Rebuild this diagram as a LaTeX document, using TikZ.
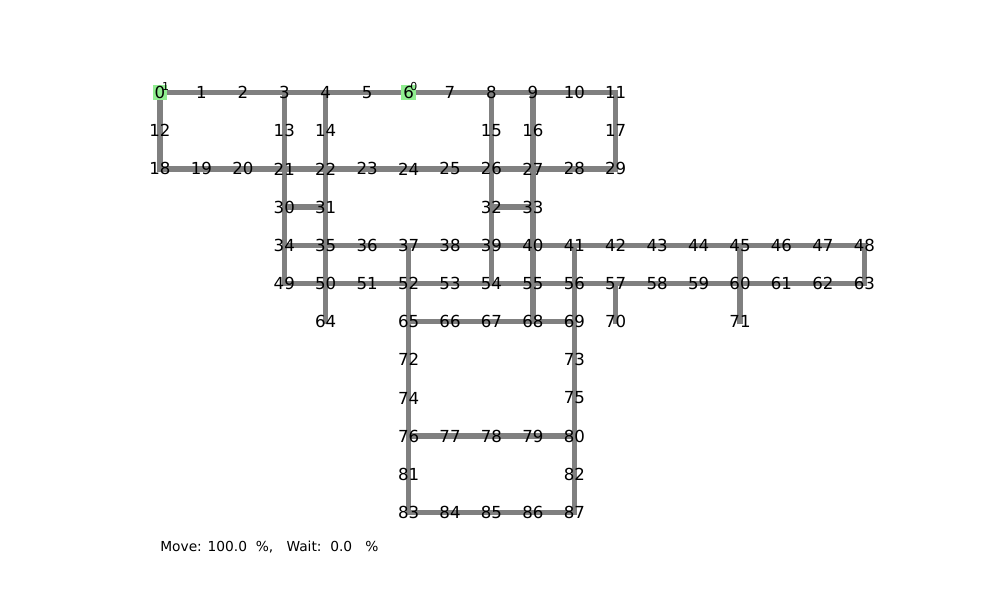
\documentclass[tikz,border=0pt]{standalone}
\usepackage{fontspec}
\setmainfont{DejaVu Sans}
\usepackage{xcolor}
\usepackage{tikz}
\usetikzlibrary{
  positioning, calc, backgrounds
}
\definecolor{trackgray}{HTML}{808080}
\definecolor{agentgreen}{HTML}{90EE90}
\tikzset{
  gridlabel/.style={
    inner sep=0pt, font=\fontsize{11.8}{14}\selectfont, text=black
  },
  gridtrack/.style={
    draw=trackgray, line width=3.9pt, line cap=rect
  },
  agentbox/.style={
    fill=agentgreen, draw=none, minimum size=0.36cm, inner sep=0pt
  },
  agenttag/.style={
    inner sep=0pt, font=\fontsize{7.8}{9}\selectfont
  },
  statlabel/.style={
    anchor=west, inner sep=0pt, font=\fontsize{9.8}{12}\selectfont
  },
}

\begin{document}
\begin{tikzpicture}[x=1.0357cm, y=-0.9545cm]
  \useasboundingbox (-3.862,-2.423) rectangle (20.275,13.292);
  % cells, row by row (number/column)
  \foreach \n/\c in {0/0,1/1,2/2,3/3,4/4,5/5,6/6,7/7,8/8,9/9,10/10,11/11}
    \node[gridlabel] (n\n) at (\c,0) {\n};
  \foreach \n/\c in {12/0,13/3,14/4,15/8,16/9,17/11}
    \node[gridlabel] (n\n) at (\c,1) {\n};
  \foreach \n/\c in {18/0,19/1,20/2,21/3,22/4,23/5,24/6,25/7,26/8,27/9,28/10,29/11}
    \node[gridlabel] (n\n) at (\c,2) {\n};
  \foreach \n/\c in {30/3,31/4,32/8,33/9}
    \node[gridlabel] (n\n) at (\c,3) {\n};
  \foreach \n/\c in {34/3,35/4,36/5,37/6,38/7,39/8,40/9,41/10,42/11,43/12,44/13,45/14,46/15,47/16,48/17}
    \node[gridlabel] (n\n) at (\c,4) {\n};
  \foreach \n/\c in {49/3,50/4,51/5,52/6,53/7,54/8,55/9,56/10,57/11,58/12,59/13,60/14,61/15,62/16,63/17}
    \node[gridlabel] (n\n) at (\c,5) {\n};
  \foreach \n/\c in {64/4,65/6,66/7,67/8,68/9,69/10,70/11,71/14}
    \node[gridlabel] (n\n) at (\c,6) {\n};
  \foreach \n/\c in {72/6,73/10}
    \node[gridlabel] (n\n) at (\c,7) {\n};
  \foreach \n/\c in {74/6,75/10}
    \node[gridlabel] (n\n) at (\c,8) {\n};
  \foreach \n/\c in {76/6,77/7,78/8,79/9,80/10}
    \node[gridlabel] (n\n) at (\c,9) {\n};
  \foreach \n/\c in {81/6,82/10}
    \node[gridlabel] (n\n) at (\c,10) {\n};
  \foreach \n/\c in {83/6,84/7,85/8,86/9,87/10}
    \node[gridlabel] (n\n) at (\c,11) {\n};

  \begin{scope}[on background layer]
    % horizontal runs
    \foreach \s/\e in {0/11,18/29,30/31,32/33,34/48,49/63,65/69,76/80,83/87}{
      \pgfmathtruncatemacro{\last}{\e-1}
      \foreach \i in {\s,...,\last}{
        \pgfmathtruncatemacro{\nxt}{\i+1}
        \draw[gridtrack] (n\i.center) -- (n\nxt.center);
      }
    }
    % vertical runs
    \draw[gridtrack] (n0.center) -- (n12.center) -- (n18.center);
    \draw[gridtrack] (n3.center) -- (n13.center) -- (n21.center) -- (n30.center) -- (n34.center) -- (n49.center);
    \draw[gridtrack] (n4.center) -- (n14.center) -- (n22.center) -- (n31.center) -- (n35.center) -- (n50.center) -- (n64.center);
    \draw[gridtrack] (n8.center) -- (n15.center) -- (n26.center) -- (n32.center) -- (n39.center) -- (n54.center);
    \draw[gridtrack] (n9.center) -- (n16.center) -- (n27.center) -- (n33.center) -- (n40.center) -- (n55.center) -- (n68.center);
    \draw[gridtrack] (n11.center) -- (n17.center) -- (n29.center);
    \draw[gridtrack] (n37.center) -- (n52.center) -- (n65.center) -- (n72.center) -- (n74.center) -- (n76.center) -- (n81.center) -- (n83.center);
    \draw[gridtrack] (n41.center) -- (n56.center) -- (n69.center) -- (n73.center) -- (n75.center) -- (n80.center) -- (n82.center) -- (n87.center);
    \draw[gridtrack] (n57.center) -- (n70.center);
    \draw[gridtrack] (n45.center) -- (n60.center) -- (n71.center);
    \draw[gridtrack] (n48.center) -- (n63.center);
    % agents
    \node[agentbox] (agent1) at (n0.center) {};
    \node[agentbox] (agent0) at (n6.center) {};
  \end{scope}

  % agent ids
  \node[agenttag] (tag1) at ($(n0)+(0.135,-0.16)$) {1};
  \node[agenttag] (tag0) at ($(n6)+(0.125,-0.16)$) {0};

  % stats line
  \node[statlabel] (stats) at (0,11.9) {Move: 100.0~~\%,~~~Wait:~~0.0~~~\%};
\end{tikzpicture}
\end{document}
